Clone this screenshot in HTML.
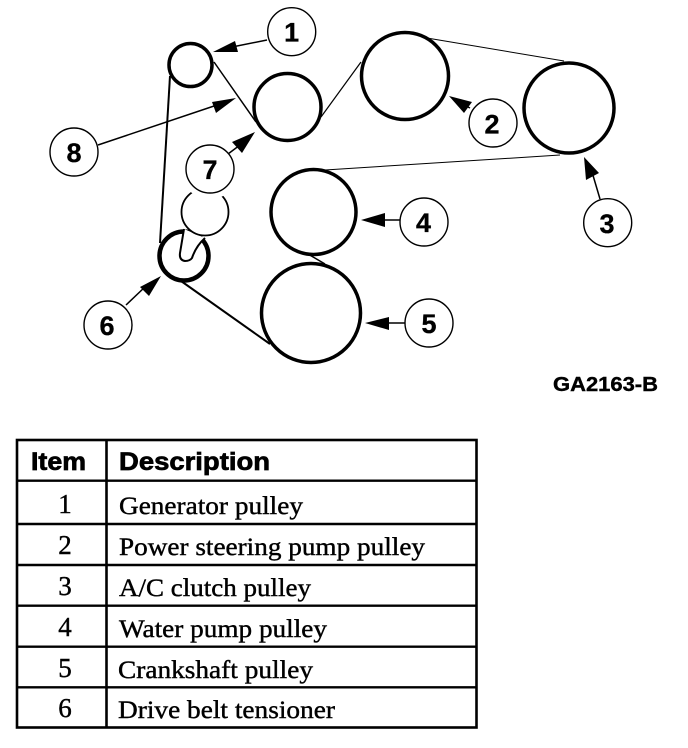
<!DOCTYPE html>
<html><head><meta charset="utf-8"><style>
html,body{margin:0;padding:0;background:#fff}
svg{display:block}
.n{font:bold 27px "Liberation Sans",sans-serif;text-anchor:middle;stroke:#000;stroke-width:.3}
.h{font:bold 25px "Liberation Sans",sans-serif;stroke:#000;stroke-width:.7}
.t{font:25px "Liberation Serif",serif;stroke:#000;stroke-width:.4}
.i{font:27px "Liberation Serif",serif;text-anchor:middle;stroke:#000;stroke-width:.4}
</style></head><body>
<svg width="688" height="748" viewBox="0 0 688 748" xmlns="http://www.w3.org/2000/svg">
<g fill="none" stroke="#000">
<!-- belts -->
<path d="M170 76 L160 243" stroke-width="2"/>
<path d="M214 62 L256 122" stroke-width="1.5"/>
<path d="M321 117 L361 62" stroke-width="1.2"/>
<path d="M427 38 L564 61" stroke-width="1"/>
<path d="M560 155 L325 170" stroke-width="1"/>
<path d="M308 254 L325 264" stroke-width="1.5"/>
<path d="M181 281 L270 344" stroke-width="2"/>
<!-- pulleys -->
<circle cx="190.5" cy="65" r="21.5" stroke-width="3.5"/>
<circle cx="287.5" cy="107" r="33.5" stroke-width="3.5"/>
<circle cx="405" cy="76" r="43.5" stroke-width="3.5"/>
<circle cx="569" cy="108" r="45" stroke-width="3.5"/>
<circle cx="313.5" cy="212" r="42.5" stroke-width="3.5"/>
<circle cx="311" cy="313" r="49.5" stroke-width="3.5"/>
<circle cx="184" cy="256" r="24.5" stroke-width="4.5"/>
<!-- tensioner arm and idler -->
<path d="M184 229 L180 253 Q179 260 185 261 Q190 261 192 258 Q196 246 205 238" stroke-width="2" fill="#fff"/>
<circle cx="205" cy="212" r="23.5" fill="#fff" stroke-width="1.8"/>
<circle cx="210" cy="169" r="30" fill="#fff" stroke="none"/>
<!-- leaders -->
<path d="M267 40 L232 47" stroke-width="1.5"/>
<path d="M98 145 L220 104" stroke-width="1.5"/>
<path d="M228 154 L240 145" stroke-width="1.5"/>
<path d="M126 305 L146 286" stroke-width="1.5"/>
<path d="M470 108 L460 103" stroke-width="1.5"/>
<path d="M600 199 L592 172" stroke-width="1.5"/>
<path d="M400 220 L380 220" stroke-width="1.5"/>
<path d="M405 323 L385 323" stroke-width="1.5"/>
</g>
<!-- arrowheads -->
<g fill="#000">
<polygon points="213,52 235,41 238,52"/>
<polygon points="236,98 216,113 212,102"/>
<polygon points="255,132 242,153 232,142"/>
<polygon points="161,276 149,296 140,287"/>
<polygon points="449,96 472,102 464,113"/>
<polygon points="584,157 599,173 586,180"/>
<polygon points="361,220 385,213 385,227"/>
<polygon points="365,323 389,317 389,330"/>
</g>
<!-- callouts -->
<g fill="#fff" stroke="#000" stroke-width="1.4">
<circle cx="291.7" cy="31.7" r="24"/>
<circle cx="74" cy="152" r="24"/>
<circle cx="210" cy="169" r="24"/>
<circle cx="108" cy="325" r="24"/>
<circle cx="493" cy="123" r="24"/>
<circle cx="607.7" cy="222.7" r="24"/>
<circle cx="424" cy="222" r="24"/>
<circle cx="429" cy="323" r="24"/>
</g>
<text class="n" x="291.7" y="41.5">1</text>
<text class="n" x="74" y="162">8</text>
<text class="n" x="210" y="179">7</text>
<text class="n" x="107" y="335">6</text>
<text class="n" x="492" y="133.5">2</text>
<text class="n" x="607" y="233">3</text>
<text class="n" x="423.5" y="232">4</text>
<text class="n" x="429" y="333">5</text>
<text x="553" y="391" font-family="Liberation Sans" font-weight="bold" font-size="20" stroke="#000" stroke-width=".4" textLength="105" lengthAdjust="spacingAndGlyphs">GA2163-B</text>
<!-- table -->
<g stroke="#000" fill="none">
<rect x="17" y="440" width="459.5" height="287.5" stroke-width="2.6"/>
<path d="M106.5 440V727.5" stroke-width="2.6"/>
<path d="M17 480.7H476.5M17 524H476.5M17 565H476.5M17 605.7H476.5M17 646.7H476.5M17 687.3H476.5" stroke-width="2.4"/>
</g>
<text class="h" x="31" y="470" textLength="55" lengthAdjust="spacingAndGlyphs">Item</text>
<text class="h" x="119" y="470" textLength="151" lengthAdjust="spacingAndGlyphs">Description</text>
<text class="i" x="65" y="513">1</text>
<text class="i" x="65" y="554">2</text>
<text class="i" x="65" y="595">3</text>
<text class="i" x="65" y="636">4</text>
<text class="i" x="65" y="677">5</text>
<text class="i" x="65" y="717">6</text>
<text class="t" x="119" y="514" textLength="184" lengthAdjust="spacingAndGlyphs">Generator pulley</text>
<text class="t" x="119" y="555" textLength="306" lengthAdjust="spacingAndGlyphs">Power steering pump pulley</text>
<text class="t" x="119" y="596" textLength="192" lengthAdjust="spacingAndGlyphs">A/C clutch pulley</text>
<text class="t" x="119" y="637" textLength="208" lengthAdjust="spacingAndGlyphs">Water pump pulley</text>
<text class="t" x="118" y="678" textLength="195" lengthAdjust="spacingAndGlyphs">Crankshaft pulley</text>
<text class="t" x="118" y="718" textLength="217" lengthAdjust="spacingAndGlyphs">Drive belt tensioner</text>
</svg>
</body></html>
